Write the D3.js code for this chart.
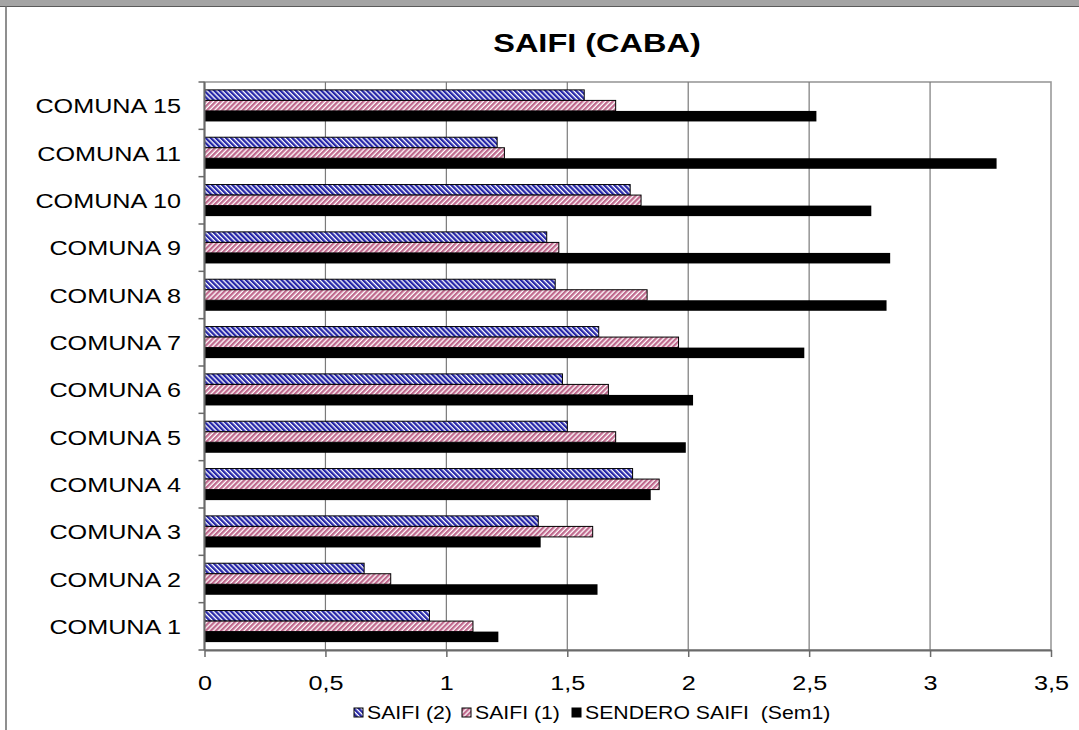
<!DOCTYPE html>
<html><head><meta charset="utf-8">
<script src="https://cdn.jsdelivr.net/npm/d3@7"></script>
<style>
body{margin:0;background:#fff}
svg{display:block}
text{font-family:"Liberation Sans",Arial,sans-serif;fill:#000}
</style>
</head><body>
<svg id="chart" width="1079" height="730"></svg>
<script>
// ---- data (top to bottom as shown) ----
const categories = ["COMUNA 15","COMUNA 11","COMUNA 10","COMUNA 9","COMUNA 8","COMUNA 7","COMUNA 6","COMUNA 5","COMUNA 4","COMUNA 3","COMUNA 2","COMUNA 1"];
const seriesNames = ["SAIFI (2)","SAIFI (1)","SENDERO SAIFI  (Sem1)"];
const saifi2  = [1.57, 1.21, 1.76, 1.415, 1.45, 1.63, 1.48, 1.50, 1.77, 1.38, 0.66, 0.93];
const saifi1  = [1.70, 1.24, 1.805, 1.465, 1.83, 1.96, 1.67, 1.70, 1.88, 1.605, 0.77, 1.11];
const sendero = [2.53, 3.275, 2.757, 2.835, 2.82, 2.48, 2.02, 1.99, 1.845, 1.39, 1.625, 1.215];
const tickValues = [0, 0.5, 1, 1.5, 2, 2.5, 3, 3.5];
const tickLabels = ["0","0,5","1","1,5","2","2,5","3","3,5"];
const title = "SAIFI (CABA)";

const svg = d3.select("#chart");
const W = 1079, H = 730;
const SX = 1.2; // horizontal text stretch of the reference

// frame
svg.append("rect").attr("x",0).attr("y",0).attr("width",W).attr("height",6).attr("fill","#a4a4a4");
svg.append("line").attr("x1",0).attr("x2",W).attr("y1",6.5).attr("y2",6.5).attr("stroke","#5a5a5a").attr("stroke-width",1.2);
svg.append("line").attr("x1",6).attr("x2",6).attr("y1",6).attr("y2",H).attr("stroke","#6a6a6a").attr("stroke-width",1.5);

// patterns
const defs = svg.append("defs");
function stripe(id, color, angle){
  const p = defs.append("pattern").attr("id",id).attr("patternUnits","userSpaceOnUse")
    .attr("width",3.6).attr("height",3.6).attr("patternTransform",`rotate(${angle})`);
  p.append("rect").attr("width",3.6).attr("height",3.6).attr("fill","#ffffff");
  p.append("rect").attr("width",2.3).attr("height",3.6).attr("fill",color);
}
stripe("pBlue","#2626a8",-45);
stripe("pPink","#c06a8e",45);
const fills = ["url(#pBlue)","url(#pPink)","#000000"];

const margin = {left:204.5, right:1051, top:82, bottom:650};
const x = d3.scaleLinear().domain([0,3.5]).range([margin.left, margin.right]);
const y = d3.scaleBand().domain(categories).range([margin.top, margin.bottom]).paddingInner(1/3).paddingOuter(1/6);
const ys = d3.scaleBand().domain(d3.range(3)).range([0, y.bandwidth()]);

// plot area border
svg.append("rect").attr("x",x(0)).attr("y",margin.top).attr("width",x(3.5)-x(0)).attr("height",margin.bottom-margin.top)
  .attr("fill","none").attr("stroke","#9a9a9a").attr("stroke-width",1.6);

// gridlines
svg.append("g").selectAll("line").data(tickValues.slice(1,-1)).join("line")
  .attr("x1",d=>x(d)).attr("x2",d=>x(d)).attr("y1",margin.top).attr("y2",margin.bottom)
  .attr("stroke","#7a7a7a").attr("stroke-width",1.2);

// bars
const rows = categories.map((c,i)=>({cat:c, vals:[saifi2[i], saifi1[i], sendero[i]]}));
const g = svg.append("g");
rows.forEach(r=>{
  r.vals.forEach((v,k)=>{
    g.append("rect")
      .attr("x",x(0)).attr("y",y(r.cat)+ys(k))
      .attr("width",x(v)-x(0)).attr("height",ys.bandwidth())
      .attr("fill",fills[k])
      .attr("stroke","#000").attr("stroke-width",k<2?1:0);
  });
});

// x axis
const xAxis = svg.append("g").attr("transform",`translate(0,${margin.bottom})`)
  .call(d3.axisBottom(x).tickValues(tickValues).tickFormat((d,i)=>tickLabels[i]).tickSize(7).tickSizeOuter(0));
xAxis.select(".domain").attr("stroke","#6a6a6a").attr("stroke-width",2);
xAxis.selectAll(".tick line").attr("stroke","#6a6a6a").attr("stroke-width",1.5);
xAxis.selectAll(".tick text").attr("font-size",21).attr("font-family","Liberation Sans, Arial, sans-serif")
  .attr("fill","#000").attr("y",0).attr("dy",null).attr("transform",`translate(0,40) scale(${SX},1)`);

// y axis line and ticks at band boundaries
const half = (y.step()-y.bandwidth())/2;
const bounds = categories.map(c=>y(c)-half).concat([y(categories[categories.length-1])+y.bandwidth()+half]);
svg.append("line").attr("x1",x(0)).attr("x2",x(0)).attr("y1",margin.top).attr("y2",margin.bottom)
  .attr("stroke","#6a6a6a").attr("stroke-width",2);
svg.append("g").selectAll("line").data(bounds).join("line")
  .attr("x1",x(0)-6).attr("x2",x(0)).attr("y1",d=>d).attr("y2",d=>d)
  .attr("stroke","#6a6a6a").attr("stroke-width",1.5);

// category labels
svg.append("g").selectAll("text").data(categories).join("text")
  .attr("transform",c=>`translate(181,${y(c)+y.bandwidth()/2+7.5}) scale(${SX},1)`)
  .attr("text-anchor","end").attr("font-size",21).text(c=>c);

// title
svg.append("text").attr("transform",`translate(597,52) scale(1.3,1)`)
  .attr("text-anchor","middle").attr("font-size",25).attr("font-weight","bold").text(title);

// legend
const legX = [354, 462, 572];
const leg = svg.append("g");
seriesNames.forEach((s,k)=>{
  leg.append("rect").attr("x",legX[k]).attr("y",708).attr("width",9).attr("height",9)
    .attr("fill",fills[k]).attr("stroke","#000").attr("stroke-width",1);
  leg.append("text").attr("transform",`translate(${legX[k]+13},719) scale(1.18,1)`)
    .attr("font-size",18).style("white-space","pre").attr("xml:space","preserve").text(s);
});
</script>
</body></html>
